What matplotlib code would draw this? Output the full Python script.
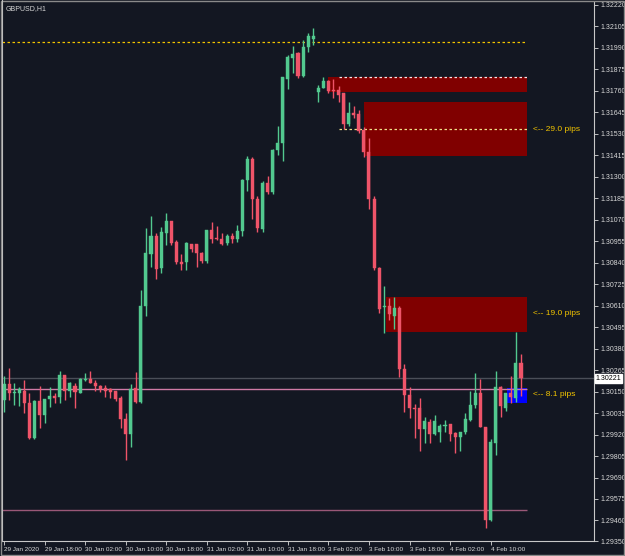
import matplotlib
matplotlib.use("Agg")
import matplotlib.pyplot as plt
from matplotlib.patches import Rectangle

plt.rcParams['font.family'] = ['Liberation Sans', 'DejaVu Sans']

# GBPUSD H1 bars, 29 Jan 2020 10:00 -> 4 Feb 2020 16:00
opens = [1.30105, 1.30191, 1.30143, 1.30143, 1.30154, 1.30089, 1.29902, 1.30100, 1.30025, 1.30111,
         1.30127, 1.30121, 1.30239, 1.30154, 1.30180, 1.30143, 1.30213, 1.30218, 1.30196, 1.30180,
         1.30170, 1.30164, 1.30154, 1.30116, 1.30004, 1.29923, 1.30170, 1.30095, 1.30609, 1.30887,
         1.30983, 1.30812, 1.30999, 1.31064, 1.30951, 1.30844, 1.30844, 1.30941, 1.30941, 1.30892,
         1.30850, 1.31016, 1.30973, 1.30967, 1.30946, 1.30983, 1.30967, 1.31010, 1.31283, 1.31396,
         1.31182, 1.31021, 1.31267, 1.31219, 1.31444, 1.31481, 1.31824, 1.31936, 1.31963, 1.31840,
         1.31995, 1.32040, 1.31754, 1.31776, 1.31813, 1.31765, 1.31765, 1.31749, 1.31583, 1.31642,
         1.31637, 1.31551, 1.31433, 1.31182, 1.30812, 1.30603, 1.30609, 1.30555, 1.30598, 1.30271,
         1.30132, 1.30063, 1.30063, 1.29950, 1.29988, 1.29923, 1.29934, 1.29966, 1.29977, 1.29929,
         1.29907, 1.29934, 1.29998, 1.30079, 1.30143, 1.29961, 1.29463, 1.29875, 1.30175, 1.30063,
         1.30143, 1.30116, 1.30304]
highs = [1.30234, 1.30277, 1.30196, 1.30175, 1.30213, 1.30143, 1.30105, 1.30180, 1.30111, 1.30175,
         1.30143, 1.30261, 1.30239, 1.30202, 1.30196, 1.30223, 1.30250, 1.30261, 1.30213, 1.30186,
         1.30186, 1.30170, 1.30154, 1.30127, 1.30036, 1.30191, 1.30255, 1.30694, 1.31026, 1.31091,
         1.30999, 1.31032, 1.31107, 1.31064, 1.30962, 1.30887, 1.30951, 1.30941, 1.30941, 1.30898,
         1.31016, 1.31058, 1.31037, 1.30999, 1.30994, 1.30999, 1.31042, 1.31289, 1.31412, 1.31406,
         1.31198, 1.31278, 1.31305, 1.31449, 1.31572, 1.31835, 1.31953, 1.32001, 1.31969, 1.32033,
         1.32070, 1.32097, 1.31792, 1.31835, 1.31819, 1.31824, 1.31787, 1.31749, 1.31701, 1.31680,
         1.31658, 1.31567, 1.31508, 1.31198, 1.30817, 1.30716, 1.30651, 1.30657, 1.30609, 1.30298,
         1.30175, 1.30084, 1.30116, 1.30014, 1.30004, 1.30025, 1.29977, 1.29998, 1.29977, 1.29934,
         1.29934, 1.30036, 1.30154, 1.30250, 1.30218, 1.29961, 1.29897, 1.30261, 1.30180, 1.30143,
         1.30234, 1.30470, 1.30352]
lows = [1.30041, 1.30105, 1.30079, 1.30073, 1.30036, 1.29897, 1.29897, 1.29956, 1.29982, 1.30068,
        1.30089, 1.30089, 1.30105, 1.30121, 1.30063, 1.30143, 1.30207, 1.30196, 1.30154, 1.30148,
        1.30121, 1.30116, 1.30100, 1.29956, 1.29784, 1.29854, 1.30089, 1.30089, 1.30555, 1.30817,
        1.30753, 1.30785, 1.30935, 1.30935, 1.30833, 1.30801, 1.30801, 1.30898, 1.30817, 1.30839,
        1.30839, 1.30946, 1.30962, 1.30935, 1.30935, 1.30946, 1.30951, 1.30983, 1.31224, 1.31075,
        1.31005, 1.31005, 1.31208, 1.31208, 1.31417, 1.31385, 1.31770, 1.31856, 1.31829, 1.31835,
        1.31969, 1.32006, 1.31701, 1.31776, 1.31749, 1.31722, 1.31701, 1.31556, 1.31572, 1.31615,
        1.31535, 1.31406, 1.31128, 1.30801, 1.30571, 1.30464, 1.30534, 1.30486, 1.30229, 1.30041,
        1.30009, 1.29902, 1.29832, 1.29875, 1.29875, 1.29918, 1.29881, 1.29934, 1.29886, 1.29822,
        1.29832, 1.29923, 1.29993, 1.30063, 1.29961, 1.29420, 1.29458, 1.29811, 1.30014, 1.30047,
        1.30089, 1.30095, 1.30127]
closes = [1.30191, 1.30143, 1.30148, 1.30164, 1.30089, 1.29902, 1.30100, 1.30025, 1.30111, 1.30127,
          1.30116, 1.30239, 1.30154, 1.30196, 1.30148, 1.30218, 1.30218, 1.30196, 1.30180, 1.30164,
          1.30154, 1.30148, 1.30111, 1.30004, 1.29923, 1.30164, 1.30095, 1.30609, 1.30892, 1.30983,
          1.30807, 1.31005, 1.31064, 1.30946, 1.30844, 1.30833, 1.30946, 1.30914, 1.30892, 1.30850,
          1.31016, 1.30967, 1.30967, 1.30941, 1.30983, 1.30967, 1.31010, 1.31283, 1.31396, 1.31182,
          1.31026, 1.31267, 1.31219, 1.31444, 1.31481, 1.31835, 1.31942, 1.31958, 1.31840, 1.31995,
          1.32054, 1.32054, 1.31776, 1.31813, 1.31760, 1.31760, 1.31738, 1.31583, 1.31642, 1.31631,
          1.31546, 1.31433, 1.31182, 1.30812, 1.30593, 1.30609, 1.30566, 1.30598, 1.30271, 1.30132,
          1.30063, 1.30057, 1.29950, 1.29993, 1.29923, 1.29993, 1.29966, 1.29972, 1.29923, 1.29907,
          1.29934, 1.30004, 1.30079, 1.30143, 1.29961, 1.29463, 1.29881, 1.30175, 1.30073, 1.30143,
          1.30121, 1.30304, 1.30223]

xtick_pos = [0, 8, 16, 24, 32, 40, 48, 56, 64, 72, 80, 88, 96]
xtick_labels = ["29 Jan 2020", "29 Jan 18:00", "30 Jan 02:00", "30 Jan 10:00", "30 Jan 18:00",
                "31 Jan 02:00", "31 Jan 10:00", "31 Jan 18:00", "3 Feb 02:00", "3 Feb 10:00",
                "3 Feb 18:00", "4 Feb 02:00", "4 Feb 10:00"]
price_ticks = [1.29350, 1.29460, 1.29575, 1.29690, 1.29805, 1.29920, 1.30035, 1.30150, 1.30265,
               1.30380, 1.30495, 1.30610, 1.30725, 1.30840, 1.30955, 1.31070, 1.31185, 1.31300,
               1.31415, 1.31530, 1.31645, 1.31760, 1.31875, 1.31990, 1.32105, 1.32220]

# supply / demand zones: start bar, end bar, top, bottom, colour, label
zone_start = [64, 71.0, 75.3, 99.2]
zone_end = [103.2, 103.2, 103.2, 103.2]
zone_top = [1.31835, 1.31701, 1.30657, 1.30170]
zone_bottom = [1.31754, 1.31412, 1.30470, 1.30089]
zone_colors = ["#800000", "#800000", "#800000", "#0000ff"]
zone_labels = ["", "<-- 29.0 pips", "<-- 19.0 pips", "<-- 8.1 pips"]
zone_label_y = [None, 1.31551, 1.30566, 1.30132]

high_level = 1.32022
mid_levels = [1.31835, 1.31556]
pink_level = 1.30164
low_level = 1.29516
last_price = 1.30221

bg = "#131722"
bull = "#52c98f"
bear = "#ef5469"
txt = "#d8d8d8"

fig = plt.figure(figsize=(6.25, 5.56), dpi=100, facecolor=bg)
ax = fig.add_axes([2 / 625, 15 / 556, 592 / 625, 539 / 556], facecolor=bg)
ax.set_xlim(-0.4, 116.4)
ax.set_ylim(1.29350, 1.32236)

# zones first so candles sit on top
for s, e, t, b, c in zip(zone_start, zone_end, zone_top, zone_bottom, zone_colors):
    ax.add_patch(Rectangle((s, b), e - s, t - b, facecolor=c, edgecolor="none", zorder=1))
for lbl, ly in zip(zone_labels, zone_label_y):
    if lbl:
        ax.text(104.3, ly, lbl, color="#f2c400", fontsize=6, va="center", ha="left")

ax.hlines(high_level, -0.4, 103.2, colors="#f2c400", linestyles=(0, (2, 2)), lw=0.9, zorder=2)
ax.hlines(mid_levels[0], 66, 103.2, colors="#f5e6e6", linestyles=(0, (2, 2)), lw=0.9, zorder=2)
ax.hlines(mid_levels[1], 66, 103.2, colors="#f0e08a", linestyles=(0, (2, 2)), lw=0.9, zorder=2)
ax.hlines(last_price, -0.4, 116.4, colors="#4a4e58", lw=1, zorder=2)
ax.hlines(pink_level, -0.4, 103.2, colors="#cf7aa6", lw=1, zorder=2)
ax.hlines(low_level, -0.4, 103.2, colors="#9a5878", lw=1, zorder=2)

# candles
idx = list(range(len(opens)))
cols = [bull if c >= o else bear for o, c in zip(opens, closes)]
ax.vlines(idx, lows, highs, colors=cols, lw=1, zorder=3)
bottoms = [min(o, c) for o, c in zip(opens, closes)]
heights = [max(abs(c - o), 0.00003) for o, c in zip(opens, closes)]
ax.bar(idx, heights, bottom=bottoms, width=0.6, color=cols, edgecolor=cols, lw=0.3, zorder=4)

# axes styling
for side in ["top", "left"]:
    ax.spines[side].set_visible(False)
for side in ["right", "bottom"]:
    ax.spines[side].set_color("#c8c8c8")
    ax.spines[side].set_linewidth(0.8)

ax.yaxis.tick_right()
ax.set_yticks(price_ticks)
ax.set_yticklabels([f"{p:.5f}" for p in price_ticks])
ax.tick_params(axis="y", colors=txt, labelsize=5, length=3, width=0.6, pad=1.5)
ax.set_xticks(xtick_pos)
ax.set_xticklabels(xtick_labels)
ax.tick_params(axis="x", colors=txt, labelsize=4.6, length=3, width=0.6, pad=1.5)
for lab in ax.get_xticklabels():
    lab.set_horizontalalignment("left")

ax.text(1.003, last_price, f"{last_price:.5f}", transform=ax.get_yaxis_transform(),
        fontsize=5, color="black", va="center", ha="left",
        bbox=dict(boxstyle="square,pad=0.15", facecolor="white", edgecolor="white"))
ax.text(4 / 592, 1 - 7 / 539, "GBPUSD,H1", transform=ax.transAxes, fontsize=5,
        color=txt, va="center", ha="left")

# outer frame like the terminal window
fig.patches.append(Rectangle((1 / 625, 1 / 556), 623 / 625, 554 / 556, transform=fig.transFigure,
                             fill=False, edgecolor="#8a8a8a", lw=1))
fig.add_artist(plt.Line2D([2 / 625, 2 / 625], [15 / 556, 1], transform=fig.transFigure,
                          color="#bdbdbd", lw=0.8))

fig.savefig("out.png", dpi=100, facecolor=bg)
